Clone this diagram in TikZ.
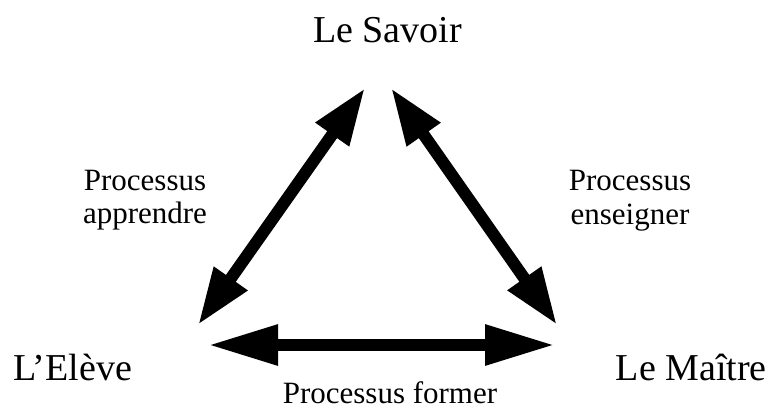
\documentclass[tikz,border=0pt]{standalone}
\usepackage{fontspec}
\setmainfont{Liberation Serif}
\usetikzlibrary{arrows.meta}
\begin{document}
\begin{tikzpicture}[x=1pt,y=-1pt,
  big/.style={font=\fontsize{38}{44}\selectfont, inner sep=0pt},
  lab/.style={font=\fontsize{31}{34}\selectfont, inner sep=0pt, anchor=base},
  diarrow/.style={line width=12pt, {Triangle[length=57pt,width=38pt]}-{Triangle[length=57pt,width=38pt]}},
  horarrow/.style={line width=12pt, {Triangle[length=70pt,width=38pt]}-{Triangle[length=70pt,width=38pt]}}]
\useasboundingbox (0,0) rectangle (775,418);
% main labels
\node[big, anchor=base] (savoir) at (387.5,42) {Le Savoir};
\node[big, anchor=base west] (eleve) at (13,380) {L’Elève};
\node[big, anchor=base east] (maitre) at (767,380) {Le Maître};
% process labels
\node[lab] (app1) at (145,190) {Processus};
\node[lab] (app2) at (145,223) {apprendre};
\node[lab] (ens1) at (630,190) {Processus};
\node[lab] (ens2) at (630,224) {enseigner};
\node[lab] (form) at (390,403) {Processus former};
% arrow ends
\coordinate (lt) at (365,88);
\coordinate (lb) at (198,325);
\coordinate (rt) at (391,88);
\coordinate (rb) at (557,325);
\coordinate (hl) at (208,345);
\coordinate (hr) at (555,345);
\draw[diarrow] (lb) -- (lt);
\draw[diarrow] (rt) -- (rb);
\draw[horarrow] (hl) -- (hr);
\end{tikzpicture}
\end{document}
